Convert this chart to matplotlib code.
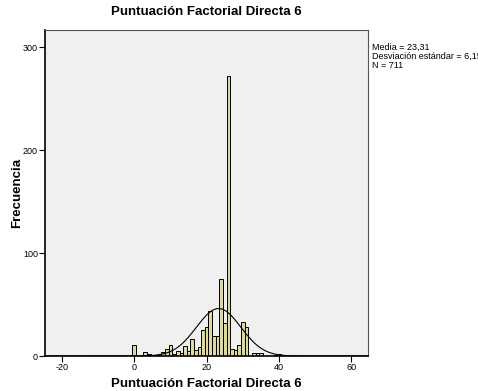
import numpy as np
import matplotlib
matplotlib.use('Agg')
import matplotlib.pyplot as plt

plt.rcParams['font.family'] = ['Liberation Sans', 'DejaVu Sans']
plt.rcParams['axes.unicode_minus'] = False

# histogram counts, one bin per integer value
bins = [0, 3, 4, 5, 6, 7, 8, 9, 10, 11, 12, 13, 14, 15, 16, 17, 18, 19, 20,
        21, 22, 23, 24, 25, 26, 27, 28, 29, 30, 31, 33, 34, 35, 39, 40]
counts = [11, 4, 2, 1, 1, 2, 4, 7, 11, 2, 5, 3, 10, 5, 17, 6, 9, 25, 28,
          44, 19, 19, 75, 32, 272, 7, 6, 11, 33, 28, 3, 3, 3, 1, 2]

media = 23.31
desv = 6.15
n = 711
titulo = 'Puntuación Factorial Directa 6'

fig = plt.figure(figsize=(4.78, 3.91), dpi=100)
ax = fig.add_axes([0.094, 0.0895, 0.676, 0.834])
ax.set_facecolor('#F0F0F0')

ax.bar(bins, counts, width=1.0, color='#E0D99C', edgecolor='black',
       linewidth=0.7, align='center', zorder=2)

# normal curve scaled to counts
xs = np.linspace(-24.7, 64.6, 400)
ys = n * 1.0 / (desv * np.sqrt(2 * np.pi)) * np.exp(-0.5 * ((xs - media) / desv) ** 2)
ax.plot(xs, ys, color='black', linewidth=0.8, zorder=3)

ax.set_xlim(-24.7, 64.6)
ax.set_ylim(0, 317)
ax.set_xticks([-20, 0, 20, 40, 60])
ax.set_yticks([0, 100, 200, 300])
ax.tick_params(axis='both', labelsize=6.5, length=4, width=0.8, color='black', pad=1)

for s in ['top', 'right']:
    ax.spines[s].set_color('#555555')
    ax.spines[s].set_linewidth(0.8)
for s in ['left', 'bottom']:
    ax.spines[s].set_color('black')
    ax.spines[s].set_linewidth(1.2)

ax.set_title(titulo, fontsize=9.5, fontweight='bold', pad=11)
ax.set_xlabel(titulo, fontsize=9.5, fontweight='bold', labelpad=4)
ax.set_ylabel('Frecuencia', fontsize=9.5, fontweight='bold', labelpad=0)

fig.text(372 / 478, 1 - 43 / 391,
         'Media = %s\nDesviación estándar = %s\nN = %d' % ('23,31', '6,15', n),
         fontsize=6.5, va='top', ha='left', linespacing=1.0)

fig.savefig('out.png', dpi=100)
